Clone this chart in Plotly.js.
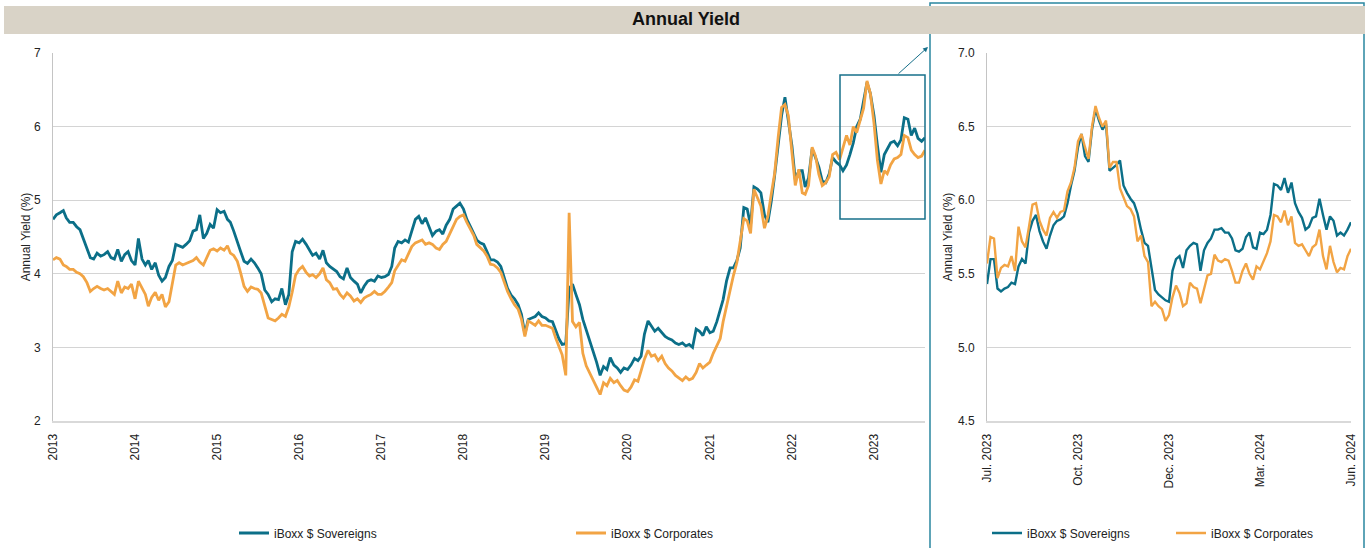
<!DOCTYPE html>
<html>
<head>
<meta charset="utf-8">
<script src="https://cdn.plot.ly/plotly-3.0.1.min.js"></script>
<style>
  html, body { margin: 0; padding: 0; background: #fff; }
  #chart { width: 1369px; height: 548px; }
</style>
</head>
<body>
<div id="chart"></div>
<script>
// Serie larga: observaciones quincenales (día 1 y 16 de cada mes) desde ene-2013
const startYear = 2013;
const sovereigns = [
  4.74, 4.80, 4.83, 4.86, 4.76, 4.70, 4.70, 4.64, 4.60, 4.47, 4.33, 4.22, 4.20, 4.28, 4.24, 4.26, 4.30, 4.22, 4.20, 4.33, 4.17, 4.26, 4.30, 4.18,
  4.12, 4.48, 4.20, 4.12, 4.18, 4.06, 4.15, 3.98, 3.90, 3.95, 4.10, 4.18, 4.40, 4.38, 4.36, 4.40, 4.45, 4.58, 4.60, 4.80, 4.48, 4.55, 4.67, 4.62,
  4.87, 4.83, 4.85, 4.74, 4.70, 4.58, 4.42, 4.30, 4.17, 4.14, 4.20, 4.15, 4.08, 4.00, 3.78, 3.72, 3.62, 3.66, 3.65, 3.80, 3.58, 3.72, 4.30, 4.44,
  4.42, 4.47, 4.40, 4.32, 4.25, 4.28, 4.20, 4.32, 4.15, 4.10, 4.06, 4.03, 3.96, 3.93, 4.08, 3.95, 3.90, 3.86, 3.74, 3.83, 3.90, 3.92, 3.90, 3.97,
  3.95, 3.96, 3.99, 4.10, 4.35, 4.44, 4.42, 4.46, 4.43, 4.58, 4.74, 4.78, 4.68, 4.76, 4.63, 4.52, 4.58, 4.60, 4.54, 4.66, 4.74, 4.88, 4.92, 4.96,
  4.88, 4.74, 4.64, 4.55, 4.46, 4.42, 4.40, 4.30, 4.19, 4.19, 4.16, 4.10, 3.94, 3.80, 3.71, 3.66, 3.58, 3.45, 3.18, 3.38, 3.40, 3.42, 3.47, 3.42,
  3.40, 3.36, 3.35, 3.22, 3.12, 3.04, 3.05, 3.80, 3.86, 3.72, 3.58, 3.38, 3.24, 3.10, 2.96, 2.80, 2.62, 2.74, 2.70, 2.86, 2.76, 2.72, 2.66, 2.72,
  2.70, 2.76, 2.85, 2.82, 2.88, 3.18, 3.36, 3.28, 3.22, 3.26, 3.20, 3.15, 3.12, 3.10, 3.06, 3.04, 3.06, 3.02, 3.04, 3.00, 3.25, 3.22, 3.16, 3.28,
  3.20, 3.22, 3.35, 3.52, 3.65, 3.90, 4.08, 4.08, 4.18, 4.35, 4.90, 4.88, 4.66, 5.18, 5.15, 5.10, 4.80, 4.70, 4.98, 5.33, 5.74, 6.15, 6.40, 6.05,
  5.74, 5.28, 5.40, 5.40, 5.18, 5.30, 5.70, 5.58, 5.45, 5.26, 5.24, 5.36, 5.58, 5.52, 5.48, 5.40, 5.48, 5.62, 5.78, 6.00, 6.10, 6.35, 6.60, 6.45,
  6.15, 5.75, 5.38, 5.62, 5.70, 5.78, 5.80, 5.74, 5.82, 6.12, 6.10, 5.88, 5.98, 5.84, 5.80, 5.85
];
const corporates = [
  4.19, 4.22, 4.20, 4.12, 4.10, 4.06, 4.06, 4.02, 4.00, 3.96, 3.88, 3.76, 3.80, 3.83, 3.80, 3.78, 3.80, 3.76, 3.72, 3.90, 3.74, 3.82, 3.80, 3.86,
  3.66, 3.90, 3.80, 3.72, 3.56, 3.68, 3.75, 3.64, 3.72, 3.55, 3.62, 3.85, 4.12, 4.15, 4.12, 4.14, 4.16, 4.18, 4.22, 4.16, 4.12, 4.22, 4.32, 4.34,
  4.31, 4.35, 4.32, 4.38, 4.28, 4.25, 4.17, 4.01, 3.83, 3.76, 3.82, 3.80, 3.79, 3.74, 3.55, 3.40, 3.38, 3.36, 3.40, 3.45, 3.42, 3.55, 3.75, 3.98,
  4.06, 4.10, 4.02, 3.97, 3.99, 3.95, 4.00, 4.08, 3.92, 3.88, 3.79, 3.80, 3.72, 3.67, 3.74, 3.70, 3.63, 3.66, 3.61, 3.67, 3.70, 3.72, 3.76, 3.72,
  3.72, 3.76, 3.82, 3.88, 4.04, 4.12, 4.19, 4.17, 4.28, 4.37, 4.42, 4.44, 4.46, 4.40, 4.42, 4.40, 4.35, 4.33, 4.40, 4.44, 4.55, 4.66, 4.74, 4.78,
  4.80, 4.70, 4.60, 4.52, 4.40, 4.35, 4.31, 4.24, 4.13, 4.12, 4.08, 4.02, 3.88, 3.76, 3.66, 3.58, 3.52, 3.38, 3.15, 3.36, 3.33, 3.30, 3.36, 3.30,
  3.30, 3.28, 3.26, 3.12, 3.02, 2.90, 2.62, 4.83, 3.35, 3.28, 3.34, 2.92, 2.75, 2.66, 2.57, 2.46, 2.36, 2.52, 2.48, 2.58, 2.52, 2.55, 2.48, 2.42,
  2.40, 2.46, 2.56, 2.54, 2.68, 2.84, 2.96, 2.88, 2.90, 2.82, 2.88, 2.78, 2.72, 2.68, 2.62, 2.58, 2.55, 2.60, 2.56, 2.58, 2.66, 2.78, 2.72, 2.76,
  2.80, 2.92, 3.02, 3.12, 3.35, 3.55, 3.80, 3.98, 4.15, 4.42, 4.75, 4.72, 4.55, 5.15, 5.02, 4.92, 4.62, 4.78, 5.08, 5.36, 5.86, 6.26, 6.30, 6.15,
  5.65, 5.20, 5.42, 5.10, 5.08, 5.20, 5.72, 5.60, 5.35, 5.20, 5.24, 5.32, 5.62, 5.65, 5.55, 5.72, 5.88, 5.75, 6.00, 5.92, 6.10, 6.25, 6.62, 6.45,
  6.05, 5.55, 5.22, 5.40, 5.36, 5.48, 5.56, 5.58, 5.62, 5.88, 5.85, 5.68, 5.62, 5.58, 5.60, 5.68
];
const yearTicks = ['2013', '2014', '2015', '2016', '2017', '2018', '2019', '2020', '2021', '2022', '2023'];

// Detalle: último año (jul-2023 a jun-2024)
const zoomSovereigns = [
  5.43, 5.60, 5.60, 5.40, 5.38, 5.40, 5.41, 5.44, 5.43, 5.55, 5.60, 5.57, 5.78, 5.86, 5.90, 5.79, 5.72, 5.67, 5.76, 5.83,
  5.86, 5.87, 5.89, 5.98, 6.10, 6.20, 6.36, 6.45, 6.30, 6.26, 6.48, 6.62, 6.54, 6.48, 6.52, 6.20, 6.22, 6.24, 6.27, 6.10,
  6.05, 6.01, 5.98, 5.91, 5.80, 5.71, 5.69, 5.55, 5.39, 5.36, 5.34, 5.32, 5.31, 5.52, 5.60, 5.62, 5.54, 5.66, 5.69, 5.71,
  5.70, 5.52, 5.66, 5.71, 5.74, 5.80, 5.80, 5.81, 5.78, 5.78, 5.74, 5.66, 5.65, 5.67, 5.75, 5.78, 5.68, 5.67, 5.78, 5.77,
  5.80, 5.90, 6.11, 6.10, 6.07, 6.15, 6.05, 6.12, 5.98, 5.92, 5.88, 5.80, 5.82, 5.88, 5.89, 6.01, 5.90, 5.80, 5.89, 5.86,
  5.76, 5.78, 5.76, 5.80, 5.85
];
const zoomCorporates = [
  5.57, 5.75, 5.74, 5.47, 5.54, 5.56, 5.55, 5.62, 5.52, 5.82, 5.72, 5.68, 5.82, 5.97, 5.98, 5.86, 5.80, 5.76, 5.88, 5.92,
  5.88, 5.92, 5.93, 6.06, 6.12, 6.22, 6.40, 6.45, 6.36, 6.28, 6.50, 6.64, 6.56, 6.50, 6.54, 6.22, 6.26, 6.26, 6.08, 6.02,
  5.96, 5.94, 5.89, 5.72, 5.76, 5.62, 5.58, 5.28, 5.31, 5.28, 5.26, 5.18, 5.22, 5.34, 5.42, 5.37, 5.28, 5.30, 5.44, 5.41,
  5.40, 5.30, 5.40, 5.49, 5.50, 5.63, 5.59, 5.58, 5.60, 5.59, 5.52, 5.44, 5.44, 5.52, 5.57, 5.50, 5.46, 5.55, 5.53, 5.58,
  5.64, 5.72, 5.90, 5.89, 5.85, 5.93, 5.83, 5.89, 5.71, 5.69, 5.70, 5.66, 5.62, 5.68, 5.70, 5.80, 5.62, 5.53, 5.69, 5.58,
  5.51, 5.54, 5.53, 5.62, 5.67
];
const zoomTicks = ['Jul. 2023', 'Oct. 2023', 'Dec. 2023', 'Mar. 2024', 'Jun. 2024'];

const seriesNames = ['iBoxx $ Sovereigns', 'iBoxx $ Corporates'];
const colors = ['#0b6f88', '#f2a444'];

// Fechas quincenales para la serie larga
const dates = sovereigns.map(function(_, i) {
  const y = startYear + Math.floor(i / 24);
  const m = Math.floor((i % 24) / 2) + 1;
  const d = (i % 2) ? 16 : 1;
  return y + '-' + String(m).padStart(2, '0') + '-' + String(d).padStart(2, '0');
});
const zoomIdx = zoomSovereigns.map(function(_, i) { return i; });
const lastIdx = zoomIdx.length - 1;
const zoomTickVals = zoomTicks.map(function(_, i) { return lastIdx * i / (zoomTicks.length - 1); });

const W = 1369, H = 548;
const px = function(v) { return v / W; };
const py = function(v) { return 1 - v / H; };

const font = { family: 'Liberation Sans, Arial, sans-serif', size: 12, color: '#222' };

const data = [
  { x: dates, y: sovereigns, name: seriesNames[0], type: 'scatter', mode: 'lines',
    line: { color: colors[0], width: 2.8 }, xaxis: 'x', yaxis: 'y', legend: 'legend' },
  { x: dates, y: corporates, name: seriesNames[1], type: 'scatter', mode: 'lines',
    line: { color: colors[1], width: 2.8 }, xaxis: 'x', yaxis: 'y', legend: 'legend' },
  { x: zoomIdx, y: zoomSovereigns, name: seriesNames[0], type: 'scatter', mode: 'lines',
    line: { color: colors[0], width: 2.4 }, xaxis: 'x2', yaxis: 'y2', legend: 'legend2' },
  { x: zoomIdx, y: zoomCorporates, name: seriesNames[1], type: 'scatter', mode: 'lines',
    line: { color: colors[1], width: 2.4 }, xaxis: 'x2', yaxis: 'y2', legend: 'legend2' }
];

const yDomain = [py(421), py(53)];

const layout = {
  width: W, height: H,
  margin: { t: 0, r: 0, b: 0, l: 0, autoexpand: false },
  paper_bgcolor: '#fff',
  plot_bgcolor: '#fff',
  font: font,
  showlegend: true,
  xaxis: {
    type: 'date', domain: [px(53), px(925)], anchor: 'y',
    range: [dates[0], dates[dates.length - 1]],
    tickvals: yearTicks.map(function(t) { return t + '-01-01'; }),
    ticktext: yearTicks, tickangle: -90, ticklabelstandoff: 6,
    showgrid: false, zeroline: false,
    showline: true, linecolor: '#d9d9d9', linewidth: 2
  },
  yaxis: {
    domain: yDomain, anchor: 'x', range: [2, 7], dtick: 1,
    ticklabelstandoff: 9,
    gridcolor: '#d4d4d4', gridwidth: 1, zeroline: false,
    showline: true, linecolor: '#c4c4c4', linewidth: 1,
    title: { text: 'Annual Yield (%)', font: { size: 12 }, standoff: 0 }
  },
  xaxis2: {
    domain: [px(987), px(1351)], anchor: 'y2',
    range: [0, lastIdx],
    tickvals: zoomTickVals, ticktext: zoomTicks, tickangle: -90, ticklabelstandoff: 6,
    showgrid: false, zeroline: false,
    showline: true, linecolor: '#d9d9d9', linewidth: 2
  },
  yaxis2: {
    domain: yDomain, anchor: 'x2', range: [4.5, 7.0], dtick: 0.5, tickformat: '.1f',
    ticklabelstandoff: 9,
    gridcolor: '#d4d4d4', gridwidth: 1, zeroline: false,
    showline: true, linecolor: '#c4c4c4', linewidth: 1,
    title: { text: 'Annual Yield (%)', font: { size: 12 }, standoff: 2 }
  },
  legend: {
    orientation: 'h', x: px(234), xanchor: 'left', y: py(533), yanchor: 'middle',
    entrywidth: 292, entrywidthmode: 'pixels', bgcolor: 'rgba(0,0,0,0)',
    font: { size: 12 }, itemclick: false
  },
  legend2: {
    orientation: 'h', x: px(987), xanchor: 'left', y: py(533), yanchor: 'middle',
    entrywidth: 139, entrywidthmode: 'pixels', bgcolor: 'rgba(0,0,0,0)',
    font: { size: 12 }, itemclick: false
  },
  shapes: [
    // marco del panel de detalle
    { type: 'rect', xref: 'paper', yref: 'paper', x0: px(930), x1: px(1364), y0: -0.02, y1: py(3),
      line: { color: '#2a87a0', width: 1.5 }, fillcolor: 'rgba(0,0,0,0)' },
    // banda del título
    { type: 'rect', xref: 'paper', yref: 'paper', x0: px(4), x1: px(1365), y0: py(34), y1: py(6),
      line: { width: 0 }, fillcolor: '#d9d3c7' },
    // recuadro del último año en el gráfico principal
    { type: 'rect', xref: 'paper', yref: 'paper', x0: px(840), x1: px(925), y0: py(219), y1: py(75),
      line: { color: '#17708a', width: 1.5 }, fillcolor: 'rgba(0,0,0,0)' }
  ],
  annotations: [
    { text: '<b>Annual Yield</b>', xref: 'paper', yref: 'paper', x: px(686), y: py(19),
      xanchor: 'center', yanchor: 'middle',
      showarrow: false, font: { size: 18, color: '#111' } },
    { text: '', xref: 'paper', yref: 'paper', x: px(928), y: py(47), ax: -31, ay: 28,
      showarrow: true, arrowhead: 2, arrowsize: 1, arrowwidth: 1, arrowcolor: '#17708a' }
  ]
};

Plotly.newPlot('chart', data, layout, { displayModeBar: false, staticPlot: true });
</script>
</body>
</html>
